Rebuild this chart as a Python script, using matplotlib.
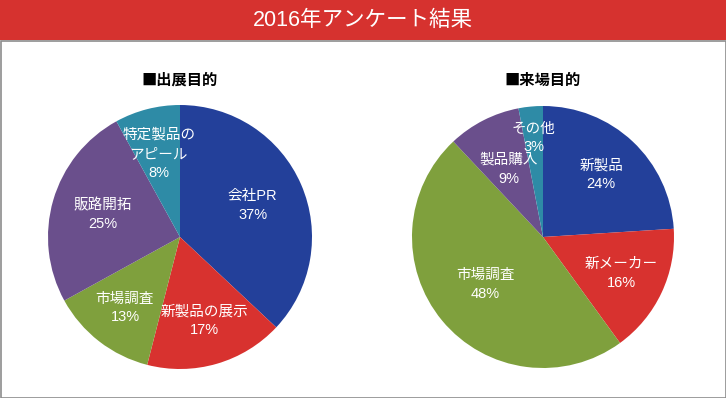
import numpy as np
import matplotlib.pyplot as plt
from matplotlib.patches import Rectangle

plt.rcParams['font.family'] = ['Liberation Sans', 'Noto Sans CJK JP', 'DejaVu Sans']

title = '2016年アンケート結果'

# left chart
left_title = '■出展目的'
left_labels = ['会社PR', '新製品の展示', '市場調査', '販路開拓', '特定製品の\nアピール']
left_values = [37, 17, 13, 25, 8]

# right chart
right_title = '■来場目的'
right_labels = ['新製品', '新メーカー', '市場調査', '製品購入', 'その他']
right_values = [24, 16, 48, 9, 3]

colors = ['#23409a', '#d8322f', '#7fa03d', '#6a4f8c', '#2e8ba6']

W, H = 726, 398
fig = plt.figure(figsize=(W/100, H/100), dpi=100)

# header bar + border
fig.patches.append(Rectangle((0, (H-40)/H), 1, 40/H, transform=fig.transFigure,
                             facecolor='#d6322f', edgecolor='none', zorder=0))
fig.patches.append(Rectangle((0.5/W, 0.5/H), (W-1)/W, (H-41)/H, transform=fig.transFigure,
                             facecolor='none', edgecolor='#8c8c8c', lw=1.2, zorder=1))
fig.text(0.5, (H-20)/H, title, color='white', fontsize=15.5, ha='center', va='center')


def draw_pie(cx, cy, r, values, labels, name, dists):
    ax = fig.add_axes([(cx-r)/W, (H-cy-r)/H, 2*r/W, 2*r/H])
    wedges, _ = ax.pie(values, colors=colors, startangle=90, counterclock=False,
                       radius=1, wedgeprops=dict(linewidth=0))
    for w, lab, v, d in zip(wedges, labels, values, dists):
        ang = np.deg2rad((w.theta1 + w.theta2) / 2)
        ax.text(d*np.cos(ang), d*np.sin(ang), '%s\n%d%%' % (lab, v), color='white',
                fontsize=10.5, ha='center', va='center', linespacing=1.45)
    ax.set_xlim(-1, 1)
    ax.set_ylim(-1, 1)
    ax.set_aspect('equal')
    ax.axis('off')
    fig.text(cx/W, (H-80)/H, name, fontsize=11, fontweight='bold',
             family=['Noto Sans CJK JP'], ha='center', va='center', color='black')


draw_pie(180, 237, 132, left_values, left_labels, left_title,
         [0.6, 0.66, 0.68, 0.61, 0.65])
draw_pie(543, 237, 131, right_values, right_labels, right_title,
         [0.65, 0.66, 0.57, 0.58, 0.76])

fig.savefig('out.png', dpi=100)
